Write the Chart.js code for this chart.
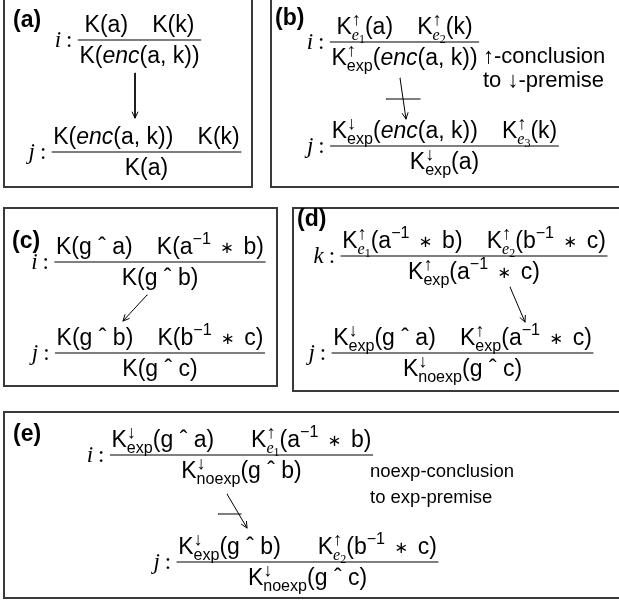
<!DOCTYPE html>
<html>
<head>
<meta charset="utf-8">
<script src="https://cdn.jsdelivr.net/npm/chart.js@4.4.0/dist/chart.umd.min.js"></script>
<style>
body { margin: 0; background: #fff; }
#diagram { display: block; }
</style>
</head>
<body>
<canvas id="diagram" width="619" height="609"></canvas>
<script>
// content of the figure
const panelNames = ["(a)", "(b)", "(c)", "(d)", "(e)"]
const ruleNames = ["i", "j", "i", "j", "i", "j", "k", "j", "i", "j"]
const premises = [
  "K(a)~K(k)",
  "K(\\it{enc}(a, k))~K(k)",
  "K^{↑}_{$e1}(a)~K^{↑}_{$e2}(k)",
  "K^{↓}_{exp}(\\it{enc}(a, k))~K^{↑}_{$e3}(k)",
  "K(g ˆ a)~K(a^{−1} ∗ b)",
  "K(g ˆ b)~K(b^{−1} ∗ c)",
  "K^{↑}_{$e1}(a^{−1} ∗ b)~K^{↑}_{$e2}(b^{−1} ∗ c)",
  "K^{↓}_{exp}(g ˆ a)~K^{↑}_{exp}(a^{−1} ∗ c)",
  "K^{↓}_{exp}(g ˆ a)~  K^{↑}_{$e1}(a^{−1} ∗ b)",
  "K^{↓}_{exp}(g ˆ b)~  K^{↑}_{$e2}(b^{−1} ∗ c)"
]
const conclusions = [
  "K(\\it{enc}(a, k))",
  "K(a)",
  "K^{↑}_{exp}(\\it{enc}(a, k))",
  "K^{↓}_{exp}(a)",
  "K(g ˆ b)",
  "K(g ˆ c)",
  "K^{↑}_{exp}(a^{−1} ∗ c)",
  "K^{↓}_{noexp}(g ˆ c)",
  "K^{↓}_{noexp}(g ˆ b)",
  "K^{↓}_{noexp}(g ˆ c)"
]
const sideNotes = [
  ["↑-conclusion", "to ↓-premise"],
  ["noexp-conclusion", "to exp-premise"]
]

// where things sit (figure pixels)
const panelBoxes = [[4, -3, 252, 187], [271, -3, 640, 187], [4, 208, 277, 386], [293, 208, 640, 391], [4, 412, 640, 598]]
const panelLabelAt = [[13, 27], [275, 25], [12, 248], [297, 226], [13, 441]]
const ruleAt = [[139.5, 40], [146.5, 152], [404.5, 42], [444.5, 146], [160, 262], [160, 353], [474, 256], [462.5, 353], [241.5, 455], [307.5, 562]]
const notesAt = [[483, 63, 22, 24], [370, 477, 18.5, 26]]
const arrows = [
  [[135, 73], [135, 118]],
  [[400, 78], [406, 119]],
  [[147, 295], [123, 321]],
  [[510, 287], [525, 322]],
  [[227, 494], [247, 528]]
]
const strikes = [[[386, 99], [420, 99]], [[218, 514], [241, 514]]]

const SIZE = 23
const SANS = '"Liberation Sans", sans-serif'
const SERIF = '"Liberation Serif", serif'

const measureCtx = document.createElement("canvas").getContext("2d")
function textWidth(t, font) {
  measureCtx.font = font
  return measureCtx.measureText(t).width
}

// tiny markup: ^{..} sup, _{..} sub ($e1 = math e with index), \it{..}, ~ = quad
function layoutFormula(src, size) {
  const runs = []
  let x = 0
  let stack = null
  let i = 0
  const push = (t, font, dx, dy) => {
    runs.push({ t, font, dx, dy })
    return textWidth(t, font)
  }
  while (i < src.length) {
    const c = src[i]
    if ((c === "^" || c === "_") && src[i + 1] === "{") {
      const end = src.indexOf("}", i)
      const body = src.slice(i + 2, end)
      i = end + 1
      if (!stack) stack = { x, w: 0 }
      const s = size * 0.7
      const dy = c === "^" ? -size * 0.42 : size * 0.26
      let w
      if (body[0] === "$") {
        w = push(body[1], `italic ${s}px ${SERIF}`, stack.x, dy)
        w += push(body.slice(2), `${s * 0.75}px ${SERIF}`, stack.x + w, dy + s * 0.2)
      } else if (body === "↑" || body === "↓") {
        w = push(body, `${size * 0.8}px ${SANS}`, stack.x, dy + 1)
      } else {
        w = push(body, `${s}px ${SANS}`, stack.x, dy)
      }
      stack.w = Math.max(stack.w, w)
      x = stack.x + stack.w
      continue
    }
    stack = null
    if (src.startsWith("\\it{", i)) {
      const end = src.indexOf("}", i)
      x += push(src.slice(i + 4, end), `italic ${size}px ${SANS}`, x, 0)
      i = end + 1
      continue
    }
    if (c === "~") {
      x += size * 1.05
      i++
      continue
    }
    if (c === "∗") {
      x += 3
      x += push(c, `${size * 0.72}px "DejaVu Sans", sans-serif`, x, -1.5) + 3
      i++
      continue
    }
    x += push(c, `${size}px ${SANS}`, x, 0)
    i++
  }
  return { runs, width: x }
}

function layoutLabel(name) {
  const runs = []
  let w = 0
  runs.push({ t: name, font: `italic ${SIZE}px ${SERIF}`, dx: 0, dy: 0 })
  w += textWidth(name, `italic ${SIZE}px ${SERIF}`) + 5
  runs.push({ t: ":", font: `${SIZE}px ${SERIF}`, dx: w, dy: 0 })
  w += textWidth(":", `${SIZE}px ${SERIF}`)
  return { runs, width: w }
}

const rules = ruleNames.map((name, k) => {
  const num = layoutFormula(premises[k], SIZE)
  const den = layoutFormula(conclusions[k], SIZE)
  const w = Math.max(num.width, den.width) + 2
  const [cx, y] = ruleAt[k]
  return { num, den, label: layoutLabel(name), cx, y, x1: cx - w / 2, x2: cx + w / 2 }
})

const datasets = []
panelBoxes.forEach(([l, t, r, b]) => {
  datasets.push({
    data: [{ x: l, y: t }, { x: r, y: t }, { x: r, y: b }, { x: l, y: b }, { x: l, y: t }],
    borderColor: "#3a3a3a", borderWidth: 2
  })
})
rules.forEach((r) => {
  datasets.push({
    data: [{ x: r.x1, y: r.y }, { x: r.x2, y: r.y }],
    borderColor: "#000", borderWidth: 1.2
  })
})
arrows.forEach(([a, b]) => {
  datasets.push({
    data: [{ x: a[0], y: a[1] }, { x: b[0], y: b[1] }],
    borderColor: "#000", borderWidth: 1, arrow: true
  })
})
strikes.forEach(([a, b]) => {
  datasets.push({
    data: [{ x: a[0], y: a[1] }, { x: b[0], y: b[1] }],
    borderColor: "#000", borderWidth: 1
  })
})
datasets.forEach((d) => {
  d.showLine = true
  d.pointRadius = 0
  d.tension = 0
  d.borderCapStyle = "square"
})

function drawRuns(ctx, lay, x, y) {
  lay.runs.forEach((r) => {
    ctx.font = r.font
    ctx.fillText(r.t, x + r.dx, y + r.dy)
  })
}

const textPlugin = {
  id: "texts",
  afterDatasetsDraw(chart) {
    const ctx = chart.ctx
    const xs = chart.scales.x
    const ys = chart.scales.y
    ctx.save()
    ctx.fillStyle = "#000"
    ctx.textBaseline = "alphabetic"
    ctx.textAlign = "left"

    panelNames.forEach((n, k) => {
      ctx.font = `bold ${SIZE}px ${SANS}`
      ctx.fillText(n, xs.getPixelForValue(panelLabelAt[k][0]), ys.getPixelForValue(panelLabelAt[k][1]))
    })

    rules.forEach((r) => {
      const cx = xs.getPixelForValue(r.cx)
      const by = ys.getPixelForValue(r.y)
      drawRuns(ctx, r.num, cx - r.num.width / 2, by - 8)
      drawRuns(ctx, r.den, cx - r.den.width / 2, by + 23)
      drawRuns(ctx, r.label, xs.getPixelForValue(r.x1) - 6 - r.label.width, by + 7)
    })

    sideNotes.forEach((lines, k) => {
      const [nx, ny, size, gap] = notesAt[k]
      ctx.font = `${size}px ${SANS}`
      lines.forEach((t, j) => {
        ctx.fillText(t, xs.getPixelForValue(nx), ys.getPixelForValue(ny) + j * gap)
      })
    })

    // arrow heads on the arrow datasets
    ctx.strokeStyle = "#000"
    ctx.lineWidth = 1
    chart.data.datasets.forEach((d, i) => {
      if (!d.arrow) return
      const pts = chart.getDatasetMeta(i).data
      const a = pts[0]
      const b = pts[pts.length - 1]
      const ang = Math.atan2(b.y - a.y, b.x - a.x)
      ctx.beginPath()
      ;[-0.45, 0.45].forEach((s) => {
        ctx.moveTo(b.x, b.y)
        ctx.lineTo(b.x - 7 * Math.cos(ang + s), b.y - 7 * Math.sin(ang + s))
      })
      ctx.stroke()
    })
    ctx.restore()
  }
}

new Chart(document.getElementById("diagram"), {
  type: "scatter",
  data: { datasets },
  options: {
    responsive: false,
    animation: false,
    devicePixelRatio: 1,
    layout: { padding: 0 },
    plugins: { legend: { display: false }, tooltip: { enabled: false } },
    scales: {
      x: { type: "linear", min: 0, max: 619, display: false },
      y: { type: "linear", min: 0, max: 609, reverse: true, display: false }
    }
  },
  plugins: [textPlugin]
})
</script>
</body>
</html>
